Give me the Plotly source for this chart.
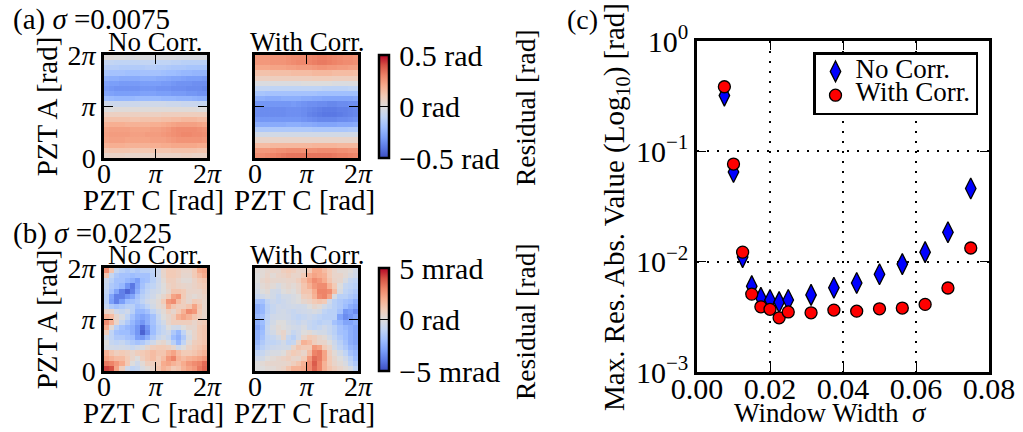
import plotly.graph_objects as go
import math

W, H = 1023, 432
FONT = "Liberation Serif"

# Panel (c) data
sigma = [0.0075, 0.01, 0.0125, 0.015, 0.0175, 0.02, 0.0225, 0.025, 0.03125, 0.0375, 0.04375, 0.05, 0.05625, 0.0625, 0.06875, 0.075]
no_corr = [0.32, 0.065, 0.011, 0.006, 0.0047, 0.0045, 0.0043, 0.0045, 0.005, 0.0058, 0.0064, 0.0077, 0.0095, 0.0122, 0.0185, 0.046]
with_corr = [0.385, 0.0767, 0.0122, 0.00508, 0.0039, 0.0037, 0.0031, 0.0035, 0.00344, 0.00364, 0.00356, 0.00374, 0.0038, 0.0041, 0.00577, 0.0133]

# Residual maps, top row first; (a) in 0.01 rad, (b) in 0.1 mrad
a_no_corr = [
 [1,1,0,0,-1,-1,0,-1,-1,-1,-1,-1,-1,-1,-2,-2,-2,-2,-2,-2],
 [-9,-9,-10,-10,-10,-10,-10,-9,-9,-9,-10,-10,-10,-11,-11,-12,-12,-12,-12,-12],
 [-13,-13,-13,-14,-14,-14,-14,-14,-13,-13,-14,-14,-15,-16,-16,-16,-17,-17,-17,-17],
 [-17,-18,-18,-18,-19,-19,-19,-18,-18,-18,-18,-19,-20,-20,-21,-22,-22,-23,-23,-23],
 [-24,-25,-25,-26,-26,-26,-26,-25,-25,-25,-26,-26,-27,-28,-28,-29,-30,-30,-30,-31],
 [-29,-30,-30,-31,-31,-31,-31,-30,-30,-30,-30,-31,-31,-32,-33,-33,-33,-34,-34,-34],
 [-31,-32,-33,-33,-33,-33,-33,-32,-32,-32,-33,-33,-33,-34,-34,-34,-35,-35,-35,-36],
 [-28,-29,-30,-30,-30,-30,-30,-29,-29,-29,-30,-30,-30,-31,-31,-31,-32,-32,-33,-33],
 [-20,-21,-22,-22,-22,-22,-21,-21,-21,-21,-21,-22,-22,-22,-23,-23,-23,-24,-25,-25],
 [-5,-6,-6,-6,-6,-6,-6,-5,-5,-5,-5,-5,-6,-6,-6,-7,-7,-7,-8,-8],
 [0,0,1,1,1,1,1,1,1,1,1,1,1,1,1,1,1,1,0,0],
 [7,7,7,7,7,7,7,7,7,7,7,8,8,8,8,8,8,8,8,8],
 [13,13,13,13,13,12,12,13,13,13,13,14,14,15,15,16,16,16,15,15],
 [18,19,19,19,18,18,18,18,18,19,19,20,21,22,23,23,23,23,22,21],
 [22,23,23,23,23,22,22,22,22,23,23,24,25,27,28,28,28,28,27,26],
 [23,24,24,24,24,23,23,23,24,24,24,25,26,27,28,29,29,28,28,27],
 [22,23,23,23,22,22,22,22,22,23,23,23,24,25,26,26,26,26,26,25],
 [18,19,19,19,18,18,18,18,18,19,19,20,20,21,21,21,21,21,20,20],
 [11,12,12,12,12,11,11,11,11,12,12,12,12,13,13,13,13,13,12,12],
 [5,6,6,6,5,5,5,5,5,6,6,6,6,6,6,7,7,6,6,6],
]
a_with_corr = [
 [25,25,25,26,26,26,27,28,28,28,29,30,31,31,30,29,28,27,27,26],
 [25,25,25,26,26,26,27,28,29,29,30,31,32,32,31,30,29,28,28,27],
 [21,21,21,22,22,22,23,23,24,24,24,25,26,26,25,25,24,24,23,23],
 [13,13,13,14,14,14,14,15,15,15,15,16,16,16,16,15,15,15,15,14],
 [7,7,7,8,8,8,8,8,8,8,8,9,9,9,9,8,8,8,8,8],
 [-1,-1,-1,-1,-1,-1,-1,-1,-1,0,0,0,0,0,0,-1,-1,-1,-1,-1],
 [-9,-9,-9,-10,-10,-10,-10,-10,-10,-10,-10,-10,-10,-11,-11,-11,-11,-11,-10,-10],
 [-17,-17,-18,-18,-18,-18,-18,-18,-18,-18,-18,-18,-19,-19,-19,-19,-19,-19,-19,-19],
 [-25,-25,-26,-26,-26,-25,-25,-25,-25,-26,-26,-27,-27,-28,-28,-28,-28,-28,-28,-27],
 [-32,-32,-32,-32,-32,-32,-32,-31,-32,-33,-34,-34,-35,-35,-36,-36,-35,-35,-34,-34],
 [-34,-35,-35,-35,-35,-35,-34,-34,-34,-35,-36,-37,-38,-39,-39,-39,-38,-38,-37,-36],
 [-34,-35,-35,-35,-35,-35,-34,-34,-34,-35,-37,-38,-39,-40,-40,-40,-39,-38,-37,-36],
 [-31,-32,-32,-32,-32,-32,-32,-32,-32,-33,-34,-35,-36,-36,-36,-36,-35,-35,-34,-33],
 [-25,-26,-26,-26,-26,-26,-25,-25,-25,-26,-26,-27,-28,-28,-28,-28,-27,-27,-27,-26],
 [-14,-15,-15,-15,-15,-15,-15,-15,-15,-15,-15,-16,-16,-16,-16,-16,-16,-16,-15,-15],
 [-4,-4,-4,-4,-4,-4,-4,-4,-4,-4,-4,-4,-4,-4,-4,-4,-4,-4,-4,-4],
 [5,5,5,5,5,5,5,5,5,5,5,5,5,5,5,5,5,5,5,5],
 [15,15,15,16,16,16,16,16,16,16,16,17,17,17,17,17,16,16,16,16],
 [24,25,25,26,27,27,28,28,28,27,27,27,28,28,28,28,27,27,26,26],
 [27,28,29,30,31,32,33,33,33,33,33,33,33,33,33,32,31,31,30,29],
]
b_no_corr = [
 [28,12,-8,-12,-15,-12,-15,-12,-12,-10,-6,5,10,10,8,5,5,10,20,22],
 [12,-8,-15,-18,-18,-20,-18,-18,-18,-12,-5,4,10,10,8,4,4,10,15,20],
 [-6,-12,-18,-18,-22,-25,-30,-20,-18,-12,-6,2,8,8,5,2,2,6,10,12],
 [-8,-15,-18,-22,-32,-40,-28,-18,-12,-10,-5,0,6,8,6,5,4,6,8,10],
 [-10,-18,-28,-38,-44,-38,-25,-15,-10,-6,-4,0,4,12,12,10,5,5,5,8],
 [-12,-28,-38,-38,-32,-28,-18,-12,-8,-5,0,4,10,22,25,10,4,2,4,6],
 [-12,-30,-38,-30,-20,-18,-15,-10,-5,-2,2,10,25,28,15,8,4,10,8,5],
 [-8,-15,-18,-15,-12,-12,-18,-15,-10,-4,2,5,20,12,8,8,12,22,12,5],
 [5,4,-5,-8,-5,-12,-22,-22,-18,-10,-4,2,8,4,10,18,28,25,10,5],
 [18,15,4,-2,-10,-18,-25,-28,-25,-18,-8,0,4,8,18,22,18,12,8,5],
 [28,18,5,-8,-15,-22,-28,-32,-25,-18,-10,-4,4,8,8,8,8,5,8,10],
 [20,2,-12,-18,-22,-25,-32,-42,-32,-20,-12,-8,0,-4,-5,0,4,4,10,12],
 [8,-10,-18,-20,-20,-25,-32,-45,-35,-20,-12,-8,-5,-15,-22,-10,0,5,10,12],
 [-4,-10,-15,-15,-18,-20,-30,-32,-25,-15,-8,-4,-8,-20,-25,-15,-2,5,10,12],
 [0,-8,-10,-8,-12,-15,-18,-15,-10,-5,2,4,-2,-12,-22,-10,2,8,10,12],
 [-2,-4,-5,-4,-5,-8,-5,-2,4,8,10,10,8,4,-5,0,6,10,12,15],
 [18,12,8,10,8,5,8,10,12,15,12,12,18,22,15,10,10,12,15,18],
 [22,18,15,15,10,5,0,8,12,15,10,15,25,30,18,15,18,20,22,25],
 [32,30,25,20,10,0,-5,2,8,8,10,20,22,18,15,20,25,28,30,35],
 [42,40,22,8,-5,-10,-8,-2,2,5,12,18,15,10,12,18,22,25,32,36],
]
b_with_corr = [
 [2,2,4,5,4,8,10,8,5,5,10,20,20,15,10,5,2,2,0,-4],
 [0,2,5,2,5,6,8,5,5,10,18,22,20,18,10,5,5,2,-2,-5],
 [0,4,6,4,4,4,5,5,8,15,22,28,25,20,12,6,4,-2,-8,-10],
 [-2,2,4,2,-2,2,4,2,5,12,18,25,28,28,18,10,0,-8,-10,-12],
 [-4,0,2,-4,-5,0,2,0,4,12,12,20,30,30,28,15,-2,-10,-12,-15],
 [-8,-5,-2,-4,-8,-4,-4,-2,0,8,10,18,28,30,22,-2,-12,-12,-15,-18],
 [-18,-18,-10,-6,-8,-6,-4,-2,0,4,6,10,12,10,-5,-12,-15,-18,-20,-25],
 [-25,-22,-12,-8,-5,-6,-5,-4,-5,-4,0,4,2,-4,-8,-12,-15,-20,-25,-28],
 [-25,-22,-12,-8,-5,-4,-6,-8,-6,-5,-4,-2,-4,-10,-12,-12,-18,-32,-30,-35],
 [-22,-18,-10,-5,-4,-4,-5,-8,-10,-8,-6,-8,-10,-12,-12,-12,-28,-35,-32,-28],
 [-25,-20,-10,-4,0,0,-4,-6,-8,-5,-8,-10,-12,-10,-10,-18,-22,-28,-28,-25],
 [-28,-22,-8,-2,2,0,-2,-4,-5,-2,-8,-10,-8,-5,-8,-12,-18,-22,-25,-28],
 [-25,-20,-8,-4,2,5,-2,-8,-5,0,2,-2,-4,-4,-8,-12,-18,-20,-25,-28],
 [-25,-18,-10,-8,-4,4,-8,-12,-5,5,10,8,4,2,-4,-10,-15,-20,-25,-28],
 [-22,-15,-10,-10,-8,-4,-10,-8,5,18,15,8,5,5,0,-6,-12,-18,-25,-28],
 [-18,-12,-8,-6,-5,-4,-4,5,12,10,10,25,22,10,5,-4,-10,-15,-22,-25],
 [-10,-8,-4,-2,-2,0,6,10,8,5,15,30,32,22,8,2,-4,-10,-18,-22],
 [-5,-4,0,2,4,6,8,5,4,10,25,35,32,22,10,4,0,-5,-12,-20],
 [0,2,4,4,4,4,5,8,12,18,28,38,30,18,10,5,2,-2,-10,-15],
 [0,0,2,2,4,6,12,18,18,20,28,36,30,18,12,8,5,2,-2,-10],
]

phase_ticks = [0, math.pi, 2 * math.pi]
phase_labels = ["0", "<i>π</i>", "2<i>π</i>"]
scale_ticks = [-50, 0, 50]
a_scale_labels = ["\u200a−0.5 rad", "\u200a0 rad", "\u200a0.5 rad"]
b_scale_labels = ["\u200a−5 mrad", "\u200a0 rad", "\u200a5 mrad"]
coolwarm = [[0, "#3b4cc0"], [.1, "#5a78e4"], [.2, "#7b9ff9"], [.3, "#9ebeff"], [.4, "#c0d4f5"], [.5, "#dddcdc"],
            [.6, "#f2cbb7"], [.7, "#f7ac8e"], [.8, "#ee8468"], [.9, "#d65244"], [1, "#b40426"]]

def hdom(a, b): return [a / W, b / W]
def vdom(top, bot): return [1 - bot / H, 1 - top / H]

fig = go.Figure()
panels = [
    (a_no_corr, "x", "y", 104, 207, 55, 158, True, None),
    (a_with_corr, "x2", "y2", 255, 358, 55, 158, False, a_scale_labels),
    (b_no_corr, "x3", "y3", 104, 207, 268, 371, True, None),
    (b_with_corr, "x4", "y4", 255, 358, 268, 371, False, b_scale_labels),
]
n = 20
cell = 2 * math.pi / n
coords = [(i + .5) * cell for i in range(n)]
for z, xa, ya, l, r, t, b, show_y, cb_labels in panels:
    trace = dict(z=z[::-1], x=coords, y=coords, xaxis=xa, yaxis=ya, zmin=-50, zmax=50, zsmooth=False,
                 xgap=0.01, ygap=0.01, colorscale=coolwarm, showscale=cb_labels is not None)
    if cb_labels:
        trace["colorbar"] = dict(
            x=379 / W, xanchor="left", xpad=0, ypad=0, thickness=10, thicknessmode="pixels",
            len=(b - t) / H, lenmode="fraction", y=1 - b / H, yanchor="bottom",
            tickvals=scale_ticks, ticktext=cb_labels, ticks="inside", ticklen=10, tickwidth=1.2,
            tickcolor="black", outlinewidth=2.5, outlinecolor="black",
            tickfont=dict(family=FONT, size=30, color="black"))
    fig.add_trace(go.Heatmap(**trace))
    ax_common = dict(range=[0, 2 * math.pi], tickvals=phase_ticks, ticks="inside", ticklen=9, tickwidth=1.3,
                     tickcolor="black", showline=True, linewidth=2.5, linecolor="black", mirror="allticks",
                     showgrid=False, zeroline=False, automargin=False,
                     tickfont=dict(family=FONT, size=28, color="black"))
    yaxis = dict(ax_common, domain=vdom(t, b), anchor=xa, tickangle=0, ticktext=phase_labels, showticklabels=show_y)
    if show_y:
        yaxis["title"] = dict(text="PZT A [rad]", standoff=2, font=dict(family=FONT, size=29, color="black"))
    fig.update_layout(**{
        ("xaxis" + xa[1:]): dict(ax_common, domain=hdom(l, r), ticktext=phase_labels, anchor=ya, tickangle=0,
                                 ticklabelstandoff=-11),
        ("yaxis" + ya[1:]): yaxis,
    })

LEGEND_TEXT = '<span style="font-size:27px">%s</span>'
fig.add_trace(go.Scatter(x=sigma, y=no_corr, mode="markers", name=LEGEND_TEXT % "No Corr.", xaxis="x5", yaxis="y5",
                         marker=dict(symbol="diamond-tall", color="#0000ff", size=15, line=dict(color="black", width=1.3))))
fig.add_trace(go.Scatter(x=sigma, y=with_corr, mode="markers", name=LEGEND_TEXT % "With Corr.", xaxis="x5", yaxis="y5",
                         marker=dict(symbol="circle", color="#ff0000", size=12, line=dict(color="black", width=1.3))))

c_common = dict(ticks="inside", ticklen=9, tickwidth=1.3, tickcolor="black", showline=True, linewidth=2.5,
                linecolor="black", mirror="allticks", showgrid=True, gridcolor="black", griddash="2px,8px",
                gridwidth=1.5, zeroline=False, automargin=False, tickfont=dict(family=FONT, size=30, color="black"))
fig.update_layout(
    xaxis5=dict(c_common, domain=hdom(697, 989), range=[0, 0.08], anchor="y5", tickvals=[0, .02, .04, .06, .08],
                ticktext=["0.00", "0.02", "0.04", "0.06", "0.08"], ticklabelstandoff=-12),
    yaxis5=dict(c_common, domain=vdom(41, 372), type="log", range=[-3, 0], anchor="x5",
                tickvals=[.001, .01, .1, 1], ticktext=["10<sup>−3</sup>", "10<sup>−2</sup>", "10<sup>−1</sup>", "10<sup>0</sup>"]),
    legend=dict(x=978 / W, xanchor="right", y=1 - 52 / H, yanchor="top", bgcolor="white", bordercolor="black",
                borderwidth=2.5, font=dict(family=FONT, size=16, color="black"), itemwidth=30, tracegroupgap=0),
    width=W, height=H, margin=dict(l=0, r=0, t=0, b=0), paper_bgcolor="white", plot_bgcolor="white",
    font=dict(family=FONT, color="black"),
)

def note(text, x, y, size=28, angle=0):
    fig.add_annotation(text=text, x=x / W, y=1 - y / H, xref="paper", yref="paper", showarrow=False,
                       xanchor="left" if text.startswith("(") else "center", yanchor="middle", textangle=angle,
                       font=dict(family=FONT, size=size, color="black"))

note("(a) <i>σ</i> =0.0075", 11, 19, 29)
note("(b) <i>σ</i> =0.0225", 11, 233, 29)
note("(c)", 565, 19)
note("No Corr.", 155, 42, 27)
note("With Corr.", 307, 42, 27)
note("No Corr.", 155, 255, 27)
note("With Corr.", 307, 255, 27)
note("PZT C [rad]", 153, 200, 29)
note("PZT C [rad]", 304, 200, 29)
note("PZT C [rad]", 153, 413, 29)
note("PZT C [rad]", 304, 413, 29)
note("Residual [rad]", 525, 108, 27.5, -90)
note("Residual [rad]", 525, 322, 27.5, -90)
note("Max. Res. Abs. Value (Log<sub>10</sub>) [rad]", 616, 207, 29, -90)
note("Window Width  <i>σ</i>", 830, 413, 27)

fig.write_html("out.html", config={"displayModeBar": False},
               post_script="document.body.style.margin='0';")
